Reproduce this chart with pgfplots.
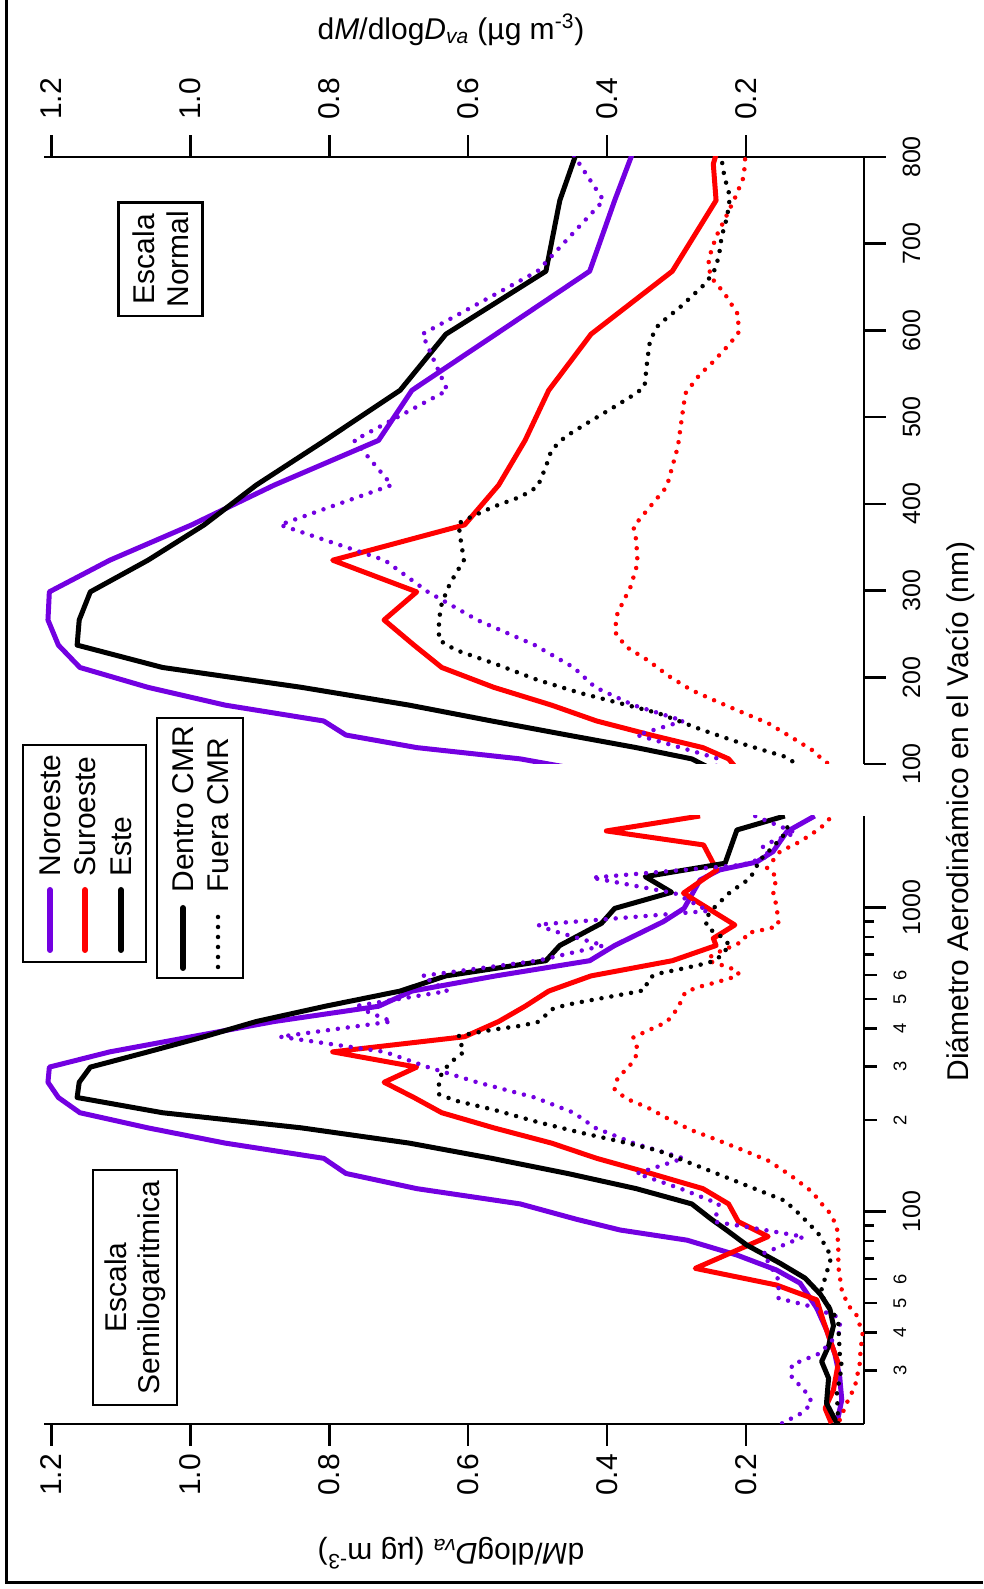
\documentclass[border=0pt]{standalone}
\usepackage{fontspec}
\setmainfont{Liberation Sans}
\usepackage{pgfplots}
\usepackage{pgfplotstable}
\pgfplotsset{compat=1.18}

\definecolor{noroeste}{RGB}{115,0,225}
\definecolor{suroeste}{RGB}{255,0,0}

% Mass size distributions: D = vacuum aerodynamic diameter (nm), v = dM/dlogDva
% Noroeste, inside CMR
\pgfplotstableread{
D v
20.1 0.069
24.0 0.062
28.6 0.065
34.0 0.072
40.8 0.084
48.1 0.098
58.1 0.122
64.2 0.156
71.9 0.213
80.5 0.285
86.9 0.381
94.4 0.445
105.9 0.525
118.9 0.674
133.4 0.776
149.6 0.808
167.9 0.950
188.4 1.061
211.3 1.159
237.1 1.190
266.1 1.205
298.5 1.203
335.0 1.116
375.8 0.998
421.7 0.879
473.2 0.729
530.9 0.681
595.7 0.560
668.3 0.425
749.9 0.389
898 0.319
994 0.289
1232 0.266
1329 0.238
1410 0.185
1527 0.161
1777 0.141
2000 0.101
}\nwin
% Suroeste, inside CMR
\pgfplotstableread{
D v
20.1 0.077
22.5 0.086
25.9 0.074
31.7 0.067
37.8 0.079
44.0 0.089
51.2 0.098
57.3 0.156
65.0 0.273
82.7 0.168
92.6 0.211
105.9 0.225
118.9 0.262
133.4 0.337
149.6 0.415
167.9 0.480
188.4 0.563
211.3 0.638
237.1 0.678
266.1 0.721
298.5 0.674
335.0 0.795
375.8 0.605
421.7 0.556
473.2 0.518
530.9 0.484
595.7 0.423
668.3 0.306
749.9 0.243
792 0.247
876 0.216
1115 0.290
1329 0.242
1606 0.261
1786 0.401
2000 0.266
}\swin
% Este, inside CMR
\pgfplotstableread{
D v
20.1 0.069
23.4 0.084
28.3 0.081
32.1 0.091
36.1 0.081
42.1 0.074
47.7 0.079
53.5 0.093
60.4 0.115
67.6 0.151
77.6 0.199
86.9 0.228
94.4 0.250
105.9 0.278
118.9 0.358
133.4 0.457
149.6 0.566
167.9 0.685
188.4 0.840
211.3 1.040
237.1 1.163
266.1 1.160
298.5 1.144
335.0 1.061
375.8 0.980
421.7 0.905
473.2 0.806
530.9 0.698
595.7 0.632
668.3 0.488
749.9 0.468
887 0.408
993 0.389
1122 0.307
1263 0.345
1398 0.230
1799 0.213
2000 0.144
}\ein
% Noroeste, outside CMR
\pgfplotstableread{
D v
20.1 0.148
21.7 0.120
23.4 0.105
24.9 0.110
28.6 0.134
31.3 0.134
34.2 0.093
40.8 0.062
45.1 0.069
49.2 0.113
51.8 0.153
59.5 0.153
72.8 0.175
82.6 0.117
89.0 0.199
92.5 0.245
105.9 0.239
118.9 0.294
133.4 0.357
149.6 0.290
167.9 0.362
188.4 0.417
211.3 0.448
237.1 0.504
266.1 0.587
298.5 0.658
335.0 0.720
375.8 0.871
421.7 0.710
473.2 0.764
530.9 0.630
595.7 0.666
668.3 0.500
749.9 0.405
841 0.480
878 0.500
974 0.254
1113 0.302
1253 0.422
1380 0.206
1480 0.165
1570 0.178
1660 0.160
1760 0.128
2000 0.187
}\nwout
% Suroeste, outside CMR
\pgfplotstableread{
D v
20.6 0.065
23.4 0.055
26.6 0.043
31.7 0.036
35.0 0.035
39.7 0.032
45.7 0.041
49.2 0.053
55.2 0.062
65.9 0.067
76.6 0.067
89.2 0.069
98.8 0.079
104.7 0.089
116.2 0.105
131.6 0.136
147.0 0.168
160.4 0.208
173.9 0.247
185.4 0.279
200.8 0.310
220.0 0.342
235.4 0.373
252.7 0.389
273.8 0.385
304.5 0.366
331.5 0.356
358.3 0.358
373.7 0.362
385.2 0.350
396.8 0.338
408.3 0.326
419.8 0.314
442.9 0.306
465.9 0.298
489.0 0.294
512.1 0.290
527.5 0.287
548.6 0.267
564.0 0.247
581.3 0.227
596.6 0.211
617.8 0.211
642.8 0.231
658.2 0.247
673.5 0.255
688.9 0.251
708.1 0.243
727.3 0.231
754.2 0.215
777.3 0.203
823 0.199
854 0.165
876 0.153
1019 0.156
1100 0.161
1263 0.156
1345 0.170
1527 0.151
1647 0.122
1822 0.093
1965 0.079
}\swout
% Este, outside CMR
\pgfplotstableread{
D v
20.1 0.067
25.2 0.069
30.9 0.062
34.2 0.065
42.9 0.067
46.3 0.074
53.8 0.093
57.3 0.089
71.0 0.077
84.8 0.096
97.6 0.122
108.5 0.144
122.0 0.200
139.3 0.263
158.5 0.326
170.0 0.381
181.5 0.437
196.9 0.500
216.1 0.563
231.5 0.618
243.0 0.642
266.1 0.642
285.3 0.638
308.4 0.626
335.3 0.606
354.5 0.610
377.5 0.614
385.2 0.595
396.8 0.563
408.3 0.524
419.8 0.500
442.9 0.488
462.1 0.480
477.5 0.460
492.9 0.429
512.1 0.389
527.5 0.358
535.2 0.346
566 0.342
589 0.338
606.3 0.326
627.4 0.294
650.5 0.263
665.8 0.247
685.1 0.239
708.1 0.235
731.2 0.227
754.2 0.223
777.3 0.231
822 0.240
849 0.254
910 0.259
982 0.249
1122 0.223
1247 0.194
1431 0.180
1583 0.161
1777 0.141
1965 0.139
}\eout

\tikzset{
  solidline/.style={line width=3pt, line join=round},
  dotline/.style={line width=2.7pt, line cap=round, dash pattern=on 0pt off 6pt},
}
\pgfplotsset{
  panel/.style={
    scale only axis, width=492pt, anchor=south west,
    xmin=-1.2107, xmax=-0.030,
    axis y line*=right,
    axis line style={line width=1.6pt},
    every tick/.style={line width=1.6pt, black},
    tick align=outside,
    major tick length=13pt,
    minor tick length=6pt,
    /pgf/number format/assume math mode=true,
    xtick={-1.2,-1,-0.8,-0.6,-0.4,-0.2},
    xticklabels={1.2,1.0,0.8,0.6,0.4,0.2},
    yticklabel style={rotate=90, anchor=north, inner sep=0pt,
      font=\fontsize{15}{15}\selectfont},
    clip=true,
  },
}

\begin{document}
\begin{tikzpicture}
\useasboundingbox (0pt,0pt) rectangle (589.8pt,953.4pt);
% outer frame
\draw[line width=1.8pt] (3.8pt,953.4pt) -- (3.8pt,3.6pt) -- (589.8pt,3.6pt);

% semilogarithmic panel
\begin{axis}[panel,
  at={(26.4pt,99pt)}, height=364.8pt,
  ymode=log, ymin=20, ymax=2000,
  axis x line*=bottom,
  xticklabel style={rotate=90, anchor=east, inner sep=0pt,
    font=\fontsize{18}{18}\selectfont},
  xticklabel shift=5pt,
  ytick={100,1000}, yticklabels={100,1000},
  yticklabel shift=10pt,
  minor ytick={70,80,90,700,800,900},
  extra y ticks={30,40,50,60,200,300,400,500,600},
  extra y tick labels={3,4,5,6,2,3,4,5,6},
  extra y tick style={major tick length=7.5pt,
    yticklabel style={font=\fontsize{11}{11}\selectfont}},
]
\addplot[noroeste, solidline] table[x expr=-\thisrow{v}, y=D] {\nwin};
\addplot[suroeste, solidline] table[x expr=-\thisrow{v}, y=D] {\swin};
\addplot[black, solidline] table[x expr=-\thisrow{v}, y=D] {\ein};
\addplot[noroeste, dotline] table[x expr=-\thisrow{v}, y=D] {\nwout};
\addplot[suroeste, dotline] table[x expr=-\thisrow{v}, y=D] {\swout};
\addplot[black, dotline] table[x expr=-\thisrow{v}, y=D] {\eout};
\end{axis}

% linear panel
\begin{axis}[panel,
  at={(26.4pt,495pt)}, height=364.2pt,
  ymin=100, ymax=800,
  axis x line*=top,
  xticklabel style={rotate=90, anchor=west, inner sep=0pt,
    font=\fontsize{18}{18}\selectfont},
  xticklabel shift=9pt,
  ytick={100,200,300,400,500,600,700,800},
  yticklabels={100,200,300,400,500,600,700,800},
  yticklabel shift=10pt,
]
\addplot[noroeste, solidline] table[x expr=-\thisrow{v}, y=D] {\nwin};
\addplot[suroeste, solidline] table[x expr=-\thisrow{v}, y=D] {\swin};
\addplot[black, solidline] table[x expr=-\thisrow{v}, y=D] {\ein};
\addplot[noroeste, dotline] table[x expr=-\thisrow{v}, y=D] {\nwout};
\addplot[suroeste, dotline] table[x expr=-\thisrow{v}, y=D] {\swout};
\addplot[black, dotline] table[x expr=-\thisrow{v}, y=D] {\eout};
\end{axis}

% axis titles
\node[font=\fontsize{18}{18}\selectfont] at (270.6pt,935.4pt)
  {d\textit{M}/dlog\textit{D}\textsubscript{\textit{va}} (µg m\textsuperscript{-3})};
\node[rotate=180, font=\fontsize{18}{18}\selectfont] at (270.6pt,21.6pt)
  {d\textit{M}/dlog\textit{D}\textsubscript{\textit{va}} (µg m\textsuperscript{-3})};
\node[rotate=90, font=\fontsize{18}{18}\selectfont] at (576.6pt,466.4pt)
  {Diámetro Aerodinámico en el Vacío (nm)};

% legend: sector
\draw[line width=1.5pt] (13.8pt,376.2pt) rectangle (87.6pt,506.4pt);
\draw[noroeste, line width=3.6pt, line cap=round] (30pt,383.4pt) -- (30pt,419.4pt);
\draw[suroeste, line width=3.6pt, line cap=round] (51pt,383.4pt) -- (51pt,419.4pt);
\draw[black, line width=3.6pt, line cap=round] (72.6pt,383.4pt) -- (72.6pt,419.4pt);
\begin{scope}[every node/.style={rotate=90, anchor=west, inner sep=0pt,
    font=\fontsize{18}{18}\selectfont}]
\node at (30pt,427.2pt) {Noroeste};
\node at (51pt,427.2pt) {Suroeste};
\node at (72.6pt,427.2pt) {Este};
\node at (109.8pt,417.6pt) {Dentro CMR};
\node at (130.8pt,417.6pt) {Fuera CMR};
\end{scope}

% legend: location
\draw[line width=1.5pt] (94.2pt,366.6pt) rectangle (145.8pt,522.6pt);
\draw[black, line width=3.6pt, line cap=round] (109.8pt,372.6pt) -- (109.8pt,408.6pt);
\draw[black, dotline] (130.8pt,373.2pt) -- (130.8pt,404.4pt);

% panel captions
\draw[line width=1.5pt] (55.8pt,110.4pt) rectangle (106.2pt,251.4pt);
\node[rotate=90, align=center, font=\fontsize{18}{20}\selectfont] at (81pt,180.9pt)
  {Escala\\Semilogaritmica};
\draw[line width=1.5pt] (71.2pt,763.8pt) rectangle (121.6pt,831.8pt);
\node[rotate=90, align=center, font=\fontsize{18}{20}\selectfont] at (96.4pt,797.8pt)
  {Escala\\Normal};
\end{tikzpicture}
\end{document}
